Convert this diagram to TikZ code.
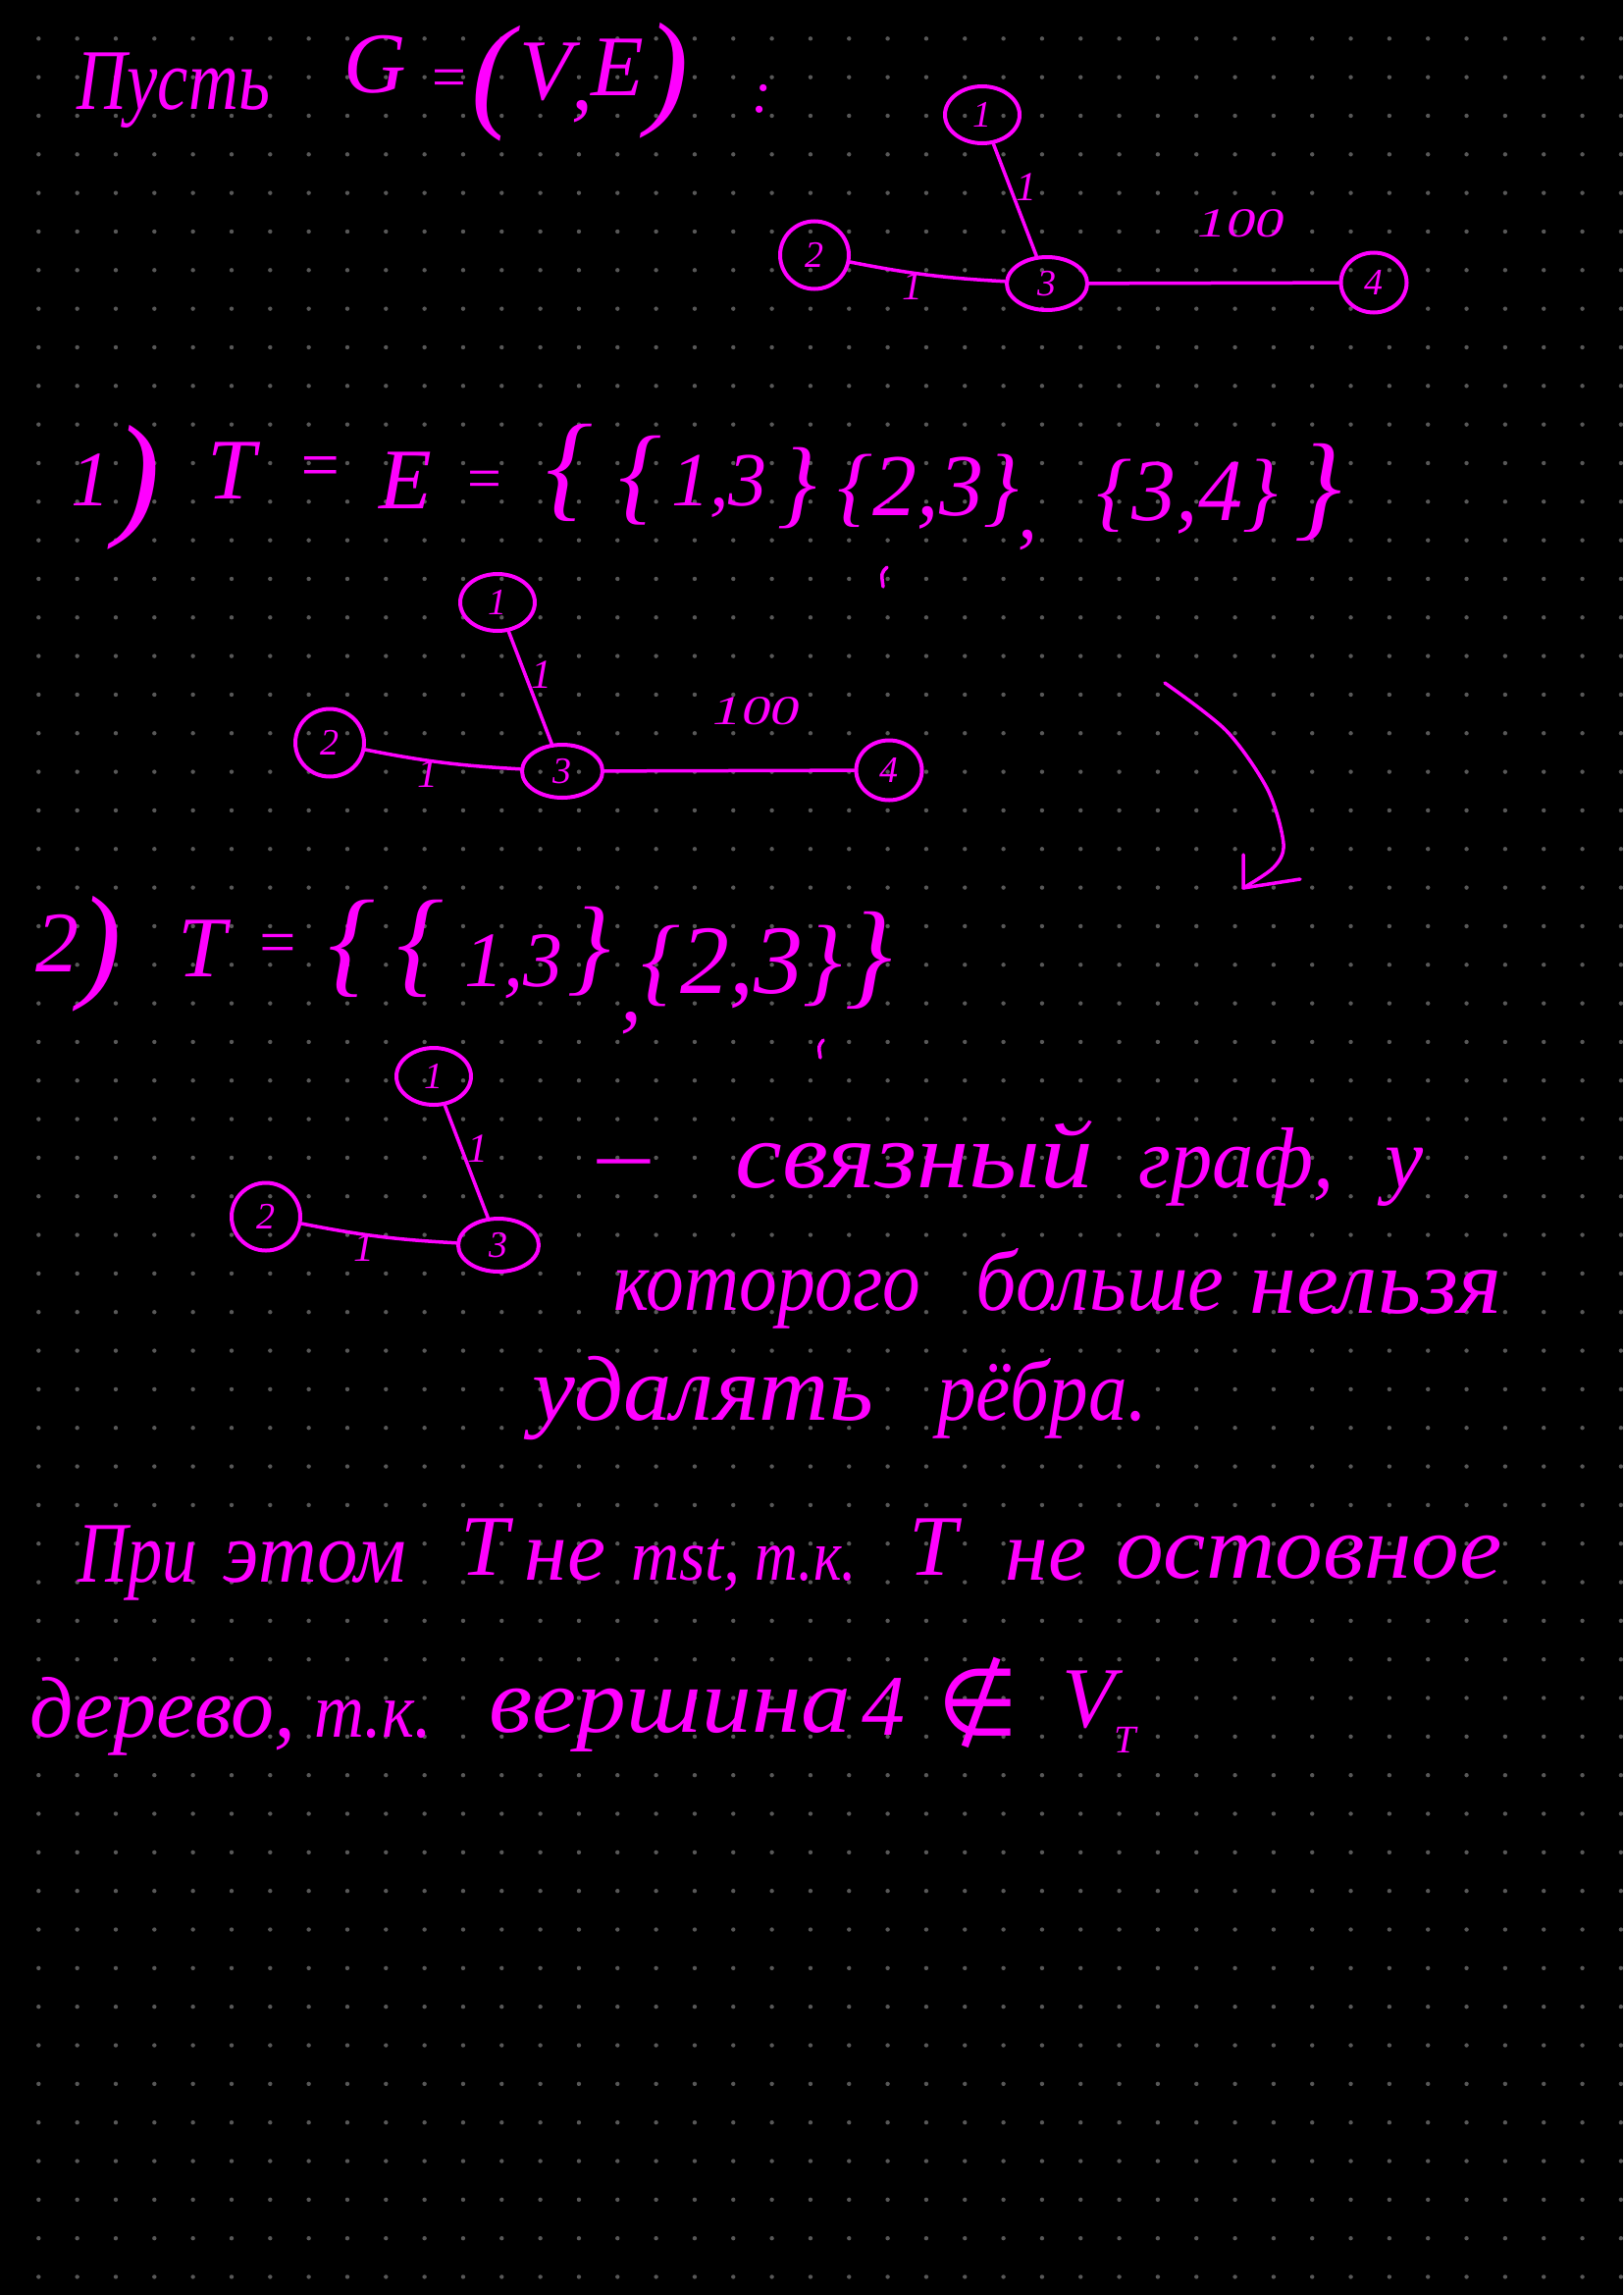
\documentclass[tikz,border=0pt]{standalone}
\usepackage{fontspec}
\usepackage{graphicx}
\setmainfont{Liberation Serif}
\newfontfamily\symf{DejaVu Sans}
\usetikzlibrary{shapes.geometric}
\definecolor{ink}{RGB}{255,0,255}
\definecolor{dotc}{RGB}{88,88,88}
\newcommand\fsz[1]{\fontsize{#1}{#1}\selectfont}
\newcommand\sx[2]{\scalebox{#1}[1]{#2}}
\tikzset{
  hw/.style={text=ink, inner sep=0pt, anchor=base, font=\itshape\fsz{88}},
  vx/.style={ellipse, draw=ink, line width=4pt, inner sep=0pt, text=ink, font=\itshape\fsz{38}},
  ed/.style={draw=ink, line width=3.5pt, line cap=round},
  wt/.style={text=ink, inner sep=0pt, font=\itshape\fsz{42}},
  stroke/.style={draw=ink, line width=3.5pt, line cap=round, line join=round}
}
\begin{document}
\begin{tikzpicture}[x=1pt, y=-1pt]
\fill[black] (0,0) rectangle (1654,2339);
\useasboundingbox (0,0) rectangle (1654,2339);
\foreach \i in {1,...,42}{\foreach \j in {1,...,59}{\fill[dotc] (\i*39.33,\j*39.33) circle (2.2pt);}}

% line 1
\node[hw] (p1) at (177,112) {\sx{0.8}{Пусть}};
\node[hw] (p2) at (382,95) {G};
\node[hw, font=\itshape\fsz{62}] (p3) at (457,100) {=};
\node[hw, font=\itshape\fsz{130}] (p4) at (502,117) {(};
\node[hw] (p5) at (556,102) {V};
\node[hw] (p6) at (593,112) {,};
\node[hw] (p7) at (629,98) {E};
\node[hw, font=\itshape\fsz{130}] (p8) at (680,114) {)};
\node[hw, font=\itshape\fsz{60}] (p9) at (776,115) {:};

% graph 1
\node[vx, minimum width=76pt, minimum height=58pt] (a1) at (1001,117) {1};
\node[vx, minimum width=70pt, minimum height=69pt] (a2) at (830,260) {2};
\node[vx, minimum width=82pt, minimum height=54pt] (a3) at (1067,289) {3};
\node[vx, minimum width=67pt, minimum height=61pt] (a4) at (1400,288) {4};
\draw[ed] (a1) -- (a3);
\draw[ed] (a2) to[bend right=4] (a3);
\draw[ed] (a3) -- (a4);
\node[wt] (aw1) at (1046,191) {1};
\node[wt] (aw2) at (930,292) {1};
\node[wt] (aw3) at (1265,228) {\sx{1.4}{100}};

% line 2
\node[hw, font=\itshape\fsz{80}] (q1) at (92,515) {1};
\node[hw, font=\itshape\fsz{140}] (q2) at (140,530) {)};
\node[hw] (q3) at (236,508) {T};
\node[hw, font=\itshape\fsz{70}] (q4) at (326,497) {=};
\node[hw] (q5) at (413,518) {E};
\node[hw, font=\itshape\fsz{62}] (q6) at (493,508) {=};
\node[hw, font=\itshape\fsz{120}] (q7) at (580,515) {\{};
\node[hw, font=\itshape\fsz{110}] (q8) at (652,520) {\{};
\node[hw, font=\itshape\fsz{78}] (q9) at (733,515) {1,3};
\node[hw, font=\itshape\fsz{100}] (q10) at (812,525) {\}};
\node[hw, font=\itshape\fsz{90}] (q11) at (946,525) {\{2,3\}};
\node[hw, font=\itshape\fsz{80}] (q12) at (1047,548) {,};
\node[hw, font=\itshape\fsz{90}] (q13) at (1210,530) {\{3,4\}};
\node[hw, font=\itshape\fsz{120}] (q14) at (1343,535) {\}};
\draw[stroke] (904,578) .. controls (898,584) .. (900,598);

% graph 2
\begin{scope}[shift={(-494,497)}]
\node[vx, minimum width=76pt, minimum height=58pt] (b1) at (1001,117) {1};
\node[vx, minimum width=70pt, minimum height=69pt] (b2) at (830,260) {2};
\node[vx, minimum width=82pt, minimum height=54pt] (b3) at (1067,289) {3};
\node[vx, minimum width=67pt, minimum height=61pt] (b4) at (1400,288) {4};
\draw[ed] (b1) -- (b3);
\draw[ed] (b2) to[bend right=4] (b3);
\draw[ed] (b3) -- (b4);
\node[wt] (bw1) at (1046,191) {1};
\node[wt] (bw2) at (930,292) {1};
\node[wt] (bw3) at (1265,228) {\sx{1.4}{100}};
\end{scope}

% arrow
\coordinate (r0) at (1187,696);
\coordinate (r1) at (1267,905);
\coordinate (r2) at (1267,871);
\coordinate (r3) at (1325,896);
\draw[stroke] plot[smooth] coordinates {(1187,696) (1250,745) (1292,805) (1308,860) (1298,884) (1267,905)};
\draw[stroke] (r2) -- (r1) -- (r3);

% line 3
\node[hw] (s1) at (58,990) {2};
\node[hw, font=\itshape\fsz{130}] (s2) at (102,1003) {)};
\node[hw] (s3) at (206,995) {T};
\node[hw, font=\itshape\fsz{66}] (s4) at (283,982) {=};
\node[hw, font=\itshape\fsz{120}] (s5) at (358,1000) {\{};
\node[hw, font=\itshape\fsz{120}] (s6) at (428,1000) {\{};
\node[hw, font=\itshape\fsz{80}] (s7) at (523,1005) {1,3};
\node[hw, font=\itshape\fsz{110}] (s8) at (600,1000) {\}};
\node[hw] (s9) at (643,1040) {,};
\node[hw, font=\itshape\fsz{100}] (s10) at (756,1012) {\{2,3\}};
\node[hw, font=\itshape\fsz{120}] (s11) at (885,1012) {\}};
\draw[stroke] (839,1060) .. controls (834,1066) .. (836,1078);

% graph 3
\begin{scope}[shift={(-559,980)}]
\node[vx, minimum width=76pt, minimum height=58pt] (c1) at (1001,117) {1};
\node[vx, minimum width=70pt, minimum height=69pt] (c2) at (830,260) {2};
\node[vx, minimum width=82pt, minimum height=54pt] (c3) at (1067,289) {3};
\draw[ed] (c1) -- (c3);
\draw[ed] (c2) to[bend right=4] (c3);
\node[wt] (cw1) at (1046,191) {1};
\node[wt] (cw2) at (930,292) {1};
\end{scope}

% text block
\node[hw] (t1) at (636,1204) {\sx{1.2}{–}};
\node[hw, font=\itshape\fsz{96}] (t2) at (932,1210) {\sx{1.12}{связный}};
\node[hw] (t3) at (1260,1210) {\sx{0.96}{граф,}};
\node[hw] (t4) at (1431,1210) {у};
\node[hw] (t5) at (782,1335) {\sx{0.88}{которого}};
\node[hw] (t6) at (1121,1335) {\sx{0.94}{больше}};
\node[hw, font=\itshape\fsz{94}] (t7) at (1402,1338) {\sx{1.03}{нельзя}};
\node[hw, font=\itshape\fsz{94}] (t8) at (716,1447) {\sx{1.05}{удалять}};
\node[hw] (t9) at (1062,1447) {\sx{0.9}{рёбра.}};

% final lines
\node[hw] (u1) at (140,1612) {\sx{0.8}{При}};
\node[hw] (u2) at (321,1612) {\sx{0.94}{этом}};
\node[hw] (u3) at (494,1605) {T};
\node[hw] (u4) at (576,1610) {не};
\node[hw, font=\itshape\fsz{74}] (u5) at (699,1610) {\sx{0.92}{mst,}};
\node[hw, font=\itshape\fsz{74}] (u6) at (821,1610) {\sx{0.82}{т.к.}};
\node[hw] (u7) at (951,1605) {T};
\node[hw] (u8) at (1066,1610) {не};
\node[hw, font=\itshape\fsz{92}] (u9) at (1334,1608) {\sx{1.06}{остовное}};
\node[hw] (v1) at (166,1770) {дерево,};
\node[hw, font=\itshape\fsz{80}] (v2) at (380,1770) {\sx{0.88}{т.к.}};
\node[hw, font=\itshape\fsz{94}] (v3) at (683,1765) {\sx{1.08}{вершина}};
\node[hw] (v4) at (900,1768) {4};
\node[hw, font=\symf\fsz{95}] (v5) at (997,1768) {∉};
\node[hw] (v6) at (1120,1760) {V\raisebox{-0.3em}{\fsz{40}T}};
\end{tikzpicture}
\end{document}
